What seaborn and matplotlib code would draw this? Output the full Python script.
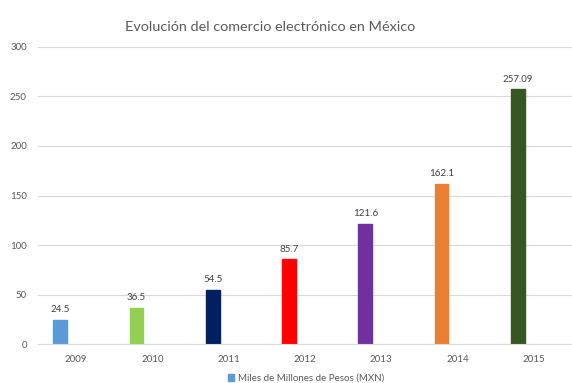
import numpy as np
import pandas as pd
import seaborn as sns
import matplotlib
matplotlib.use("Agg")
import matplotlib.pyplot as plt
from matplotlib.patches import Patch

years = ["2009", "2010", "2011", "2012", "2013", "2014", "2015"]
values = [24.5, 36.5, 54.5, 85.7, 121.6, 162.1, 257.09]
labels = ["24.5", "36.5", "54.5", "85.7", "121.6", "162.1", "257.09"]
colors = ["#5B9BD5", "#92D050", "#002060", "#FF0000", "#7030A0", "#ED7D31", "#375623"]
series_name = "Miles de Millones de Pesos (MXN)"
yticks = [0, 50, 100, 150, 200, 250, 300]

sns.set_theme(style="white")
plt.rcParams["font.family"] = ["Lato", "DejaVu Sans"]

df = pd.DataFrame({
    "year": years + years,
    "value": values + [np.nan] * len(years),
    "serie": [series_name] * len(years) + ["_blank"] * len(years),
})

fig = plt.figure(figsize=(5.72, 3.83), dpi=100)
ax = fig.add_axes([0.0664, 0.1018, 0.9336, 0.7755])

sns.barplot(data=df, x="year", y="value", hue="serie", order=years,
            hue_order=[series_name, "_blank"], dodge=True, width=0.84, gap=0.57,
            palette=["#5B9BD5", "#FFFFFF"], legend=False, ax=ax, errorbar=None)

bars = [p for p in ax.patches if np.isfinite(p.get_height()) and p.get_height() > 0]
bars.sort(key=lambda p: p.get_x())
for p, c, lab in zip(bars, colors, labels):
    p.set_facecolor(c)
    p.set_edgecolor(c)
    ax.annotate(lab, (p.get_x() + p.get_width() / 2, p.get_height()),
                xytext=(0, 4), textcoords="offset points", ha="center", va="bottom",
                fontsize=7, color="#404040")

ax.set_ylim(0, 300)
ax.set_xlim(-0.5, 6.5)
ax.set_yticks(yticks)
ax.set_yticklabels([str(t) for t in yticks])
ax.yaxis.grid(True, color="#D9D9D9", linewidth=0.8)
ax.set_axisbelow(True)
for s in ["top", "right", "left"]:
    ax.spines[s].set_visible(False)
ax.spines["bottom"].set_color("#D9D9D9")
ax.spines["bottom"].set_linewidth(0.8)
ax.tick_params(axis="both", length=0, labelsize=7, colors="#595959")
ax.tick_params(axis="x", pad=8)
ax.tick_params(axis="y", pad=8)
ax.set_xlabel("")
ax.set_ylabel("")

fig.text(0.472, 0.93, "Evolución del comercio electrónico en México",
         ha="center", va="center", fontsize=10.4, color="#595959")

handles = [Patch(facecolor="#5B9BD5", edgecolor="#5B9BD5")]
fig.legend(handles, [series_name], loc="center", bbox_to_anchor=(0.535, 0.013),
           frameon=False, fontsize=7, labelcolor="#595959",
           handlelength=0.7, handleheight=0.7, handletextpad=0.4)

fig.savefig("out.png", dpi=100)
